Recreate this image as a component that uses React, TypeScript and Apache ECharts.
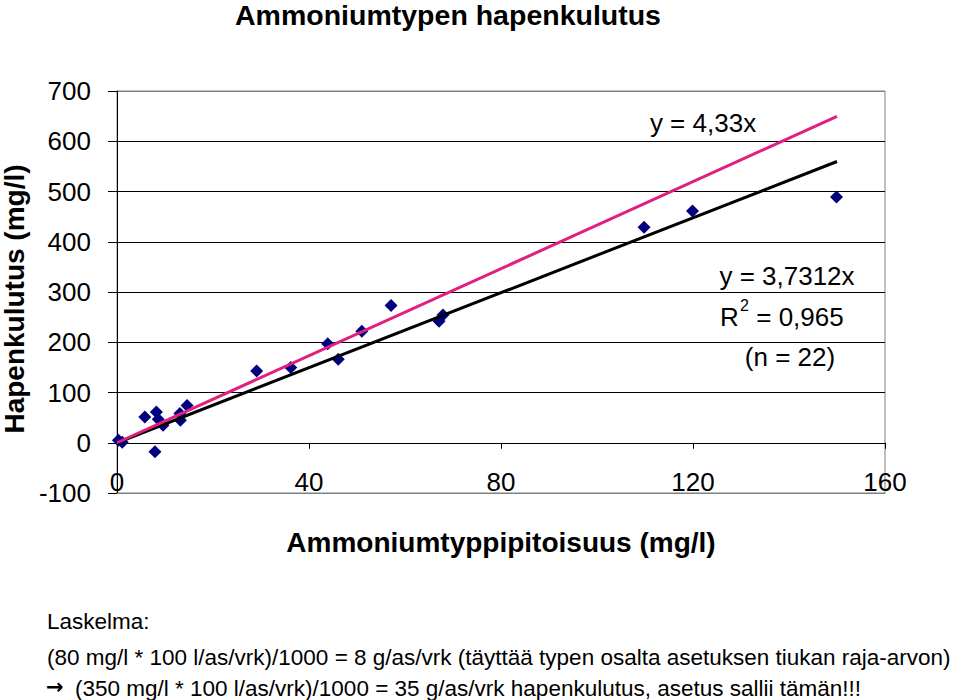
import React, { useEffect, useRef } from "react";
import * as echarts from "echarts";

// Measured points: ammonium nitrogen (mg/l) vs oxygen demand (mg/l)
const ammoniumX = [0.3, 1.1, 5.8, 8.2, 8.6, 9.6, 7.9, 13.1, 13.2, 14.6, 29.1, 36.2, 43.9, 46.1, 51.0, 57.1, 67.1, 67.9, 109.8, 119.9, 149.9];
const oxygenY = [5, 1, 51, 61, 47, 35, -18, 58, 45, 74, 143, 150, 197, 166, 222, 273, 242, 254, 429, 461, 489];

// Line end points
const lineX = [0, 150];
const fitLineY = [0, 559.7]; // y = 3,7312x
const typeLineY = [0, 649.5]; // y = 4,33x

const xMin = 0, xMax = 160, xStep = 40;
const yMin = -100, yMax = 700, yStep = 100;

const titleText = "Ammoniumtypen hapenkulutus";
const xName = "Ammoniumtyppipitoisuus (mg/l)";
const yName = "Hapenkulutus (mg/l)";
const eqType = "y = 4,33x";
const eqFit = "y = 3,7312x";
const r2Value = " = 0,965";
const nText = "(n = 22)";
const noteLines = [
  "Laskelma:",
  "(80 mg/l * 100 l/as/vrk)/1000 = 8 g/as/vrk (täyttää typen osalta asetuksen tiukan raja-arvon)",
  "(350 mg/l * 100 l/as/vrk)/1000 = 35 g/as/vrk hapenkulutus, asetus sallii tämän!!!",
];
const arrowText = "→";

const FONT = "'Liberation Sans', Arial, sans-serif";

export default function App() {
  const ref = useRef<HTMLDivElement>(null);
  useEffect(() => {
    if (!ref.current) return;
    const chart = echarts.init(ref.current, null, { renderer: "svg" });
    const pts = ammoniumX.map((x, i) => [x, oxygenY[i]]);
    const fit = lineX.map((x, i) => [x, fitLineY[i]]);
    const typ = lineX.map((x, i) => [x, typeLineY[i]]);
    const splitColors = ["#808080", "#000", "#000", "#000", "#000", "#000", "#000", "#000", "#808080"];
    const txt = (text: string, x: number, y: number, size: number, opts: any = {}) => ({
      type: "text",
      x,
      y,
      silent: true,
      style: {
        text,
        fill: "#000",
        font: `${opts.bold ? "bold " : ""}${size}px ${opts.family || FONT}`,
        textAlign: opts.align || "left",
        textVerticalAlign: "middle",
        verticalAlign: "middle",
      },
      rotation: opts.rotation || 0,
    });
    chart.setOption({
      animation: false,
      backgroundColor: "#fff",
      grid: {
        left: 117,
        right: 74,
        top: 91,
        bottom: 207,
        show: true,
        borderColor: "#808080",
        borderWidth: 1,
        containLabel: false,
      },
      xAxis: [
        {
          type: "value",
          min: xMin,
          max: xMax,
          interval: xStep,
          position: "bottom",
          axisLine: { show: true, onZero: true, lineStyle: { color: "#000", width: 1 } },
          axisTick: { show: true, inside: false, length: 6, lineStyle: { color: "#000" } },
          axisLabel: { show: false },
          splitLine: { show: false },
        },
        {
          type: "value",
          min: xMin,
          max: xMax,
          interval: xStep,
          position: "bottom",
          axisLine: { show: true, onZero: false, lineStyle: { color: "#808080", width: 1 } },
          axisTick: { show: false },
          axisLabel: {
            show: true,
            inside: true,
            margin: -2,
            fontSize: 26,
            fontFamily: FONT,
            color: "#000",
          },
          splitLine: { show: false },
        },
      ],
      yAxis: {
        type: "value",
        min: yMin,
        max: yMax,
        interval: yStep,
        axisLine: { show: true, onZero: false, lineStyle: { color: "#000", width: 1 } },
        axisTick: { show: true, inside: false, length: 9, lineStyle: { color: "#000" } },
        axisLabel: { margin: 26, fontSize: 26, fontFamily: FONT, color: "#000" },
        splitLine: { show: true, lineStyle: { color: splitColors, width: 1 } },
      },
      series: [
        {
          type: "scatter",
          xAxisIndex: 0,
          data: pts,
          symbol: "diamond",
          symbolSize: 13,
          itemStyle: { color: "#000080", opacity: 1 },
          z: 2,
        },
        {
          type: "line",
          xAxisIndex: 0,
          data: fit,
          showSymbol: false,
          symbol: "none",
          lineStyle: { color: "#000", width: 3 },
          z: 3,
        },
        {
          type: "line",
          xAxisIndex: 0,
          data: typ,
          showSymbol: false,
          symbol: "none",
          lineStyle: { color: "#e0207f", width: 3 },
          z: 4,
        },
      ],
      graphic: [
        txt(titleText, 448, 15, 28.5, { bold: true, align: "center" }),
        txt(yName, 14.5, 299, 28, { bold: true, align: "center", rotation: Math.PI / 2 }),
        txt(xName, 501, 542, 28, { bold: true, align: "center" }),
        txt(eqType, 703, 123, 26, { align: "center" }),
        txt(eqFit, 787, 276, 26, { align: "center" }),
        txt("R", 720, 317, 26),
        txt("2", 740, 305, 16),
        txt(r2Value, 749, 317, 26),
        txt(nText, 790, 357, 26, { align: "center" }),
        txt(noteLines[0], 47, 621, 22.5),
        txt(noteLines[1], 47, 657, 22.5),
        txt(arrowText, 46, 687, 21, { bold: true, family: "'DejaVu Sans', sans-serif" }),
        txt(noteLines[2], 75, 688, 22.5),
      ],
    });
    return () => chart.dispose();
  }, []);
  return (
    <div
      ref={ref}
      style={{ position: "absolute", left: 0, top: 0, width: 959, height: 700 }}
    />
  );
}
